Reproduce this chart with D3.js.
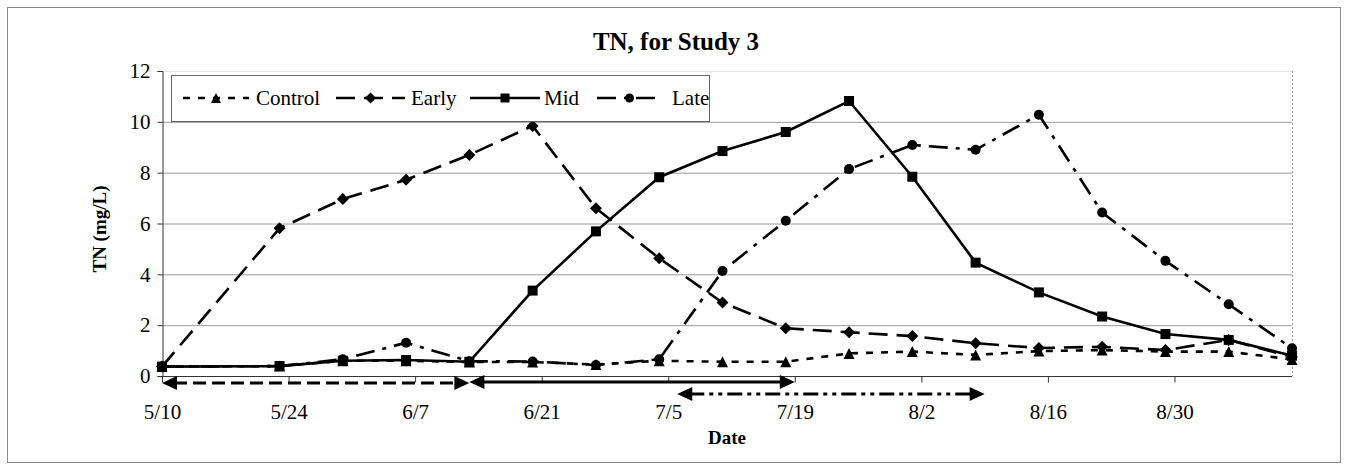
<!DOCTYPE html>
<html>
<head>
<meta charset="utf-8">
<script src="https://cdn.jsdelivr.net/npm/d3@7"></script>
<style>
  html, body { margin: 0; padding: 0; background: #fff; }
  svg { display: block; }
  text { font-family: "Liberation Serif", "Times New Roman", serif; fill: #000; }
</style>
</head>
<body>
<svg id="chart" width="1345" height="465"></svg>
<script>
// ---- data ----
const dates = ["5/10","5/23","5/30","6/6","6/13","6/20","6/27","7/4","7/11","7/18","7/25","8/1","8/8","8/15","8/22","8/29","9/5","9/12"];
const control = [0.37,0.39,0.60,0.60,0.55,0.55,0.45,0.60,0.56,0.56,0.89,0.96,0.83,0.98,1.02,0.96,0.96,0.65];
const early   = [0.37,5.81,6.96,7.72,8.70,9.84,6.60,4.63,2.89,1.88,1.72,1.57,1.29,1.10,1.15,1.02,1.42,0.75];
const mid     = [0.37,0.39,0.60,0.63,0.56,3.36,5.69,7.82,8.85,9.60,10.82,7.84,4.46,3.29,2.34,1.65,1.42,0.80];
const late    = [0.37,0.39,0.66,1.31,0.58,0.57,0.43,0.66,4.13,6.11,8.14,9.09,8.90,10.28,6.43,4.53,2.82,1.09];
const seriesNames = ["Control","Early","Mid","Late"];
const xTickLabels = ["5/10","5/24","6/7","6/21","7/5","7/19","8/2","8/16","8/30"];
const yTicks = [0,2,4,6,8,10,12];
const xDomain = ["5/10","9/12"];
const arrowStart = ["5/10","6/13","7/6"];
const arrowEnd   = ["6/13","7/19","8/9"];

// ---- setup ----
const parse = s => d3.utcParse("%m/%d/%Y")(s + "/2003");
const svg = d3.select("#chart");
const L = 162, R = 1292, T = 71, B = 376;
const x = d3.scaleUtc().domain(xDomain.map(parse)).range([L, R]);
const y = d3.scaleLinear().domain([0, 12]).range([B, T]);

// outer frame
svg.append("rect").attr("x", 7.5).attr("y", 7.5).attr("width", 1333).attr("height", 455)
  .attr("fill", "none").attr("stroke", "#8a8a8a").attr("stroke-width", 1);

// title
svg.append("text").attr("x", 676).attr("y", 50).attr("text-anchor", "middle")
  .attr("font-size", 25).attr("font-weight", "bold").text("TN, for Study 3");

// gridlines
svg.append("g").selectAll("line").data(yTicks.filter(v => v > 0)).join("line")
  .attr("x1", L).attr("x2", R).attr("y1", d => y(d) + 0.5).attr("y2", d => y(d) + 0.5)
  .attr("stroke", d => d === 12 ? "#e4e4e4" : "#9a9a9a").attr("stroke-width", 1);

// right plot border (dotted)
svg.append("line").attr("x1", R + 0.5).attr("x2", R + 0.5).attr("y1", T).attr("y2", B)
  .attr("stroke", "#999").attr("stroke-dasharray", "2,2");

// y axis
const yAxis = d3.axisLeft(y).tickValues(yTicks).tickSize(5).tickPadding(7).tickFormat(d3.format("d"));
const gy = svg.append("g").attr("transform", `translate(${L + 0.5},0)`).call(yAxis);
gy.select(".domain").attr("stroke", "#333");
gy.selectAll(".tick line").attr("stroke", "#333");
gy.selectAll(".tick text").attr("font-size", 21).attr("font-family", "Liberation Serif").attr("fill", "#000");

// x axis
const xAxis = d3.axisBottom(x).tickValues(xTickLabels.map(parse)).tickSize(6).tickPadding(22)
  .tickFormat(d3.utcFormat("%-m/%-d"));
const gx = svg.append("g").attr("transform", `translate(0,${B + 0.5})`).call(xAxis);
gx.select(".domain").attr("stroke", "#333").attr("d", `M${L},0H${R}`);
gx.selectAll(".tick line").attr("stroke", "#333");
gx.selectAll(".tick text").attr("font-size", 21).attr("font-family", "Liberation Serif").attr("fill", "#000");

// axis titles
svg.append("text").attr("transform", "translate(106,229) rotate(-90)").attr("text-anchor", "middle")
  .attr("font-size", 19).attr("font-weight", "bold").text("TN (mg/L)");
svg.append("text").attr("x", 727).attr("y", 444).attr("text-anchor", "middle")
  .attr("font-size", 19).attr("font-weight", "bold").text("Date");

// ---- series ----
const styles = {
  Control: { dash: "7,8", marker: "triangle" },
  Early:   { dash: "19,9", marker: "diamond" },
  Mid:     { dash: null, marker: "square" },
  Late:    { dash: "19,8,4,8", marker: "circle" }
};
const values = { Control: control, Early: early, Mid: mid, Late: late };

function drawMarker(g, type, cx, cy, s) {
  if (type === "square") {
    g.append("rect").attr("x", cx - s/2).attr("y", cy - s/2).attr("width", s).attr("height", s).attr("fill", "#000");
  } else if (type === "circle") {
    g.append("circle").attr("cx", cx).attr("cy", cy).attr("r", s/2).attr("fill", "#000");
  } else if (type === "diamond") {
    const h = s/2 + 1;
    g.append("path").attr("d", `M${cx},${cy-h}L${cx+h},${cy}L${cx},${cy+h}L${cx-h},${cy}Z`).attr("fill", "#000");
  } else if (type === "triangle") {
    const h = s/2 + 0.5;
    g.append("path").attr("d", `M${cx},${cy-h}L${cx+h},${cy+h}L${cx-h},${cy+h}Z`).attr("fill", "#000");
  }
}

const line = d3.line().x(d => x(d.d)).y(d => y(d.v));
const plotG = svg.append("g");
["Control","Early","Late","Mid"].forEach(name => {
  const pts = dates.map((s, i) => ({ d: parse(s), v: values[name][i] }));
  const p = plotG.append("path").datum(pts).attr("d", line).attr("fill", "none")
    .attr("stroke", "#000").attr("stroke-width", 2.6);
  if (styles[name].dash) p.attr("stroke-dasharray", styles[name].dash);
  const mg = plotG.append("g");
  pts.forEach(pt => drawMarker(mg, styles[name].marker, x(pt.d), y(pt.v), 10));
});

// ---- arrows below axis ----
const arrowY = [383, 382, 394];
const arrowDash = ["13,6", null, "15,5,4,5,4,5"];
function arrowHead(cx, cy, dir) {
  const len = 15, hw = 7;
  svg.append("path").attr("d", `M${cx},${cy}L${cx - dir*len},${cy - hw}L${cx - dir*len},${cy + hw}Z`).attr("fill", "#000");
}
arrowStart.forEach((s, i) => {
  const x1 = x(parse(s)), x2 = x(parse(arrowEnd[i])), yy = arrowY[i];
  const l = svg.append("line").attr("x1", x1 + 12).attr("x2", x2 - 12).attr("y1", yy).attr("y2", yy)
    .attr("stroke", "#000").attr("stroke-width", 3.2);
  if (arrowDash[i]) l.attr("stroke-dasharray", arrowDash[i]);
  arrowHead(x1, yy, -1);
  arrowHead(x2, yy, 1);
});

// ---- legend ----
const lg = svg.append("g");
lg.append("rect").attr("x", 171.5).attr("y", 75.5).attr("width", 538).attr("height", 46)
  .attr("fill", "#fff").attr("stroke", "#666").attr("stroke-width", 1);
const legendLayout = [
  { x1: 183, x2: 249, tx: 256 },
  { x1: 336, x2: 405, tx: 411 },
  { x1: 470, x2: 540, tx: 544 },
  { x1: 597, x2: 662, tx: 672 }
];
const ly = 98;
seriesNames.forEach((name, i) => {
  const lay = legendLayout[i];
  const l = lg.append("line").attr("x1", lay.x1).attr("x2", lay.x2).attr("y1", ly).attr("y2", ly)
    .attr("stroke", "#000").attr("stroke-width", 2.6);
  if (styles[name].dash) l.attr("stroke-dasharray", styles[name].dash);
  drawMarker(lg, styles[name].marker, (lay.x1 + lay.x2) / 2, ly, 9);
  lg.append("text").attr("x", lay.tx).attr("y", ly + 7).attr("font-size", 21).text(name);
});
</script>
</body>
</html>
